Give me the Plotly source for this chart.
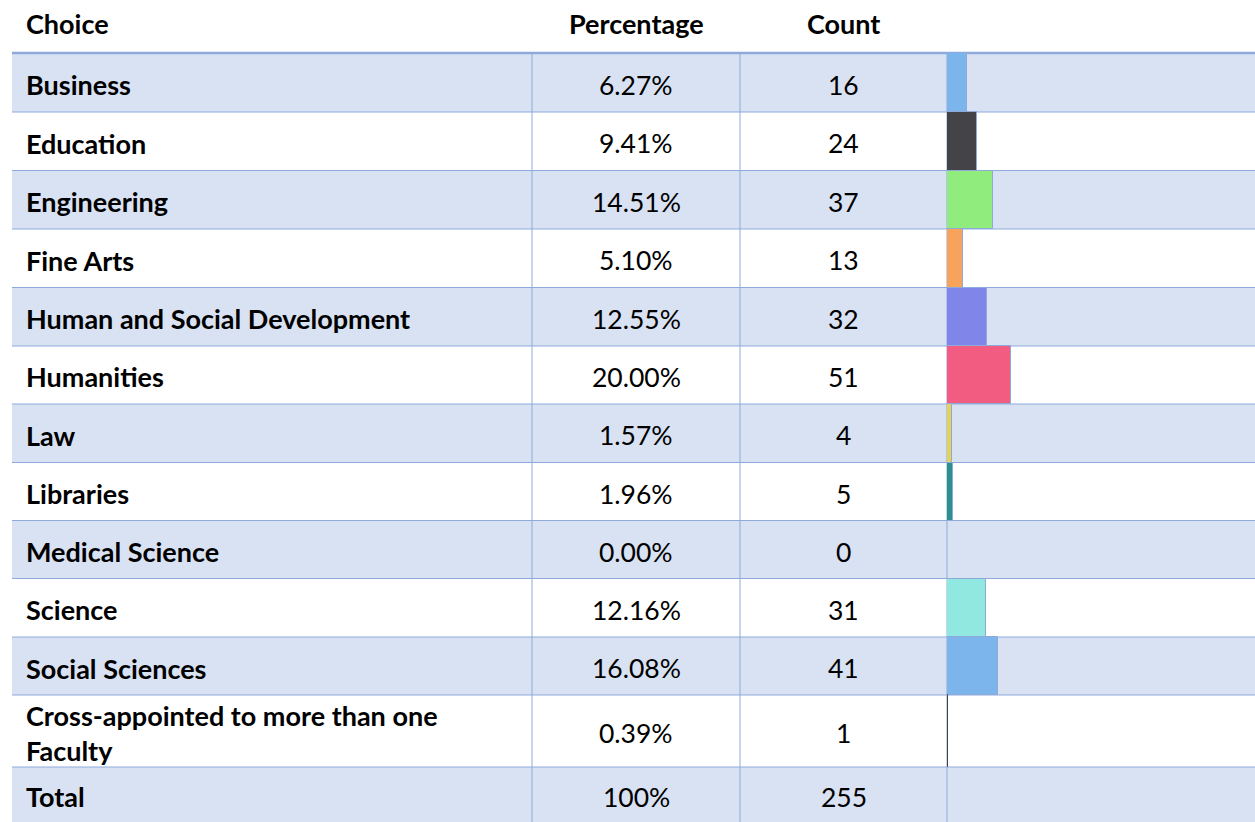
import plotly.graph_objects as go

# ---------------- data ----------------
headers = ["Choice", "Percentage", "Count"]
choices = ["Business", "Education", "Engineering", "Fine Arts",
           "Human and Social Development", "Humanities", "Law", "Libraries",
           "Medical Science", "Science", "Social Sciences",
           "Cross-appointed to more than one<br>Faculty"]
percentages = [6.27, 9.41, 14.51, 5.10, 12.55, 20.00, 1.57, 1.96, 0.00, 12.16, 16.08, 0.39]
counts = [16, 24, 37, 13, 32, 51, 4, 5, 0, 31, 41, 1]
total_label = "Total"
total_percentage = "100%"
total_count = 255

# ---------------- style / layout ----------------
bar_colors = ['#7cb5ec', '#434348', '#90ed7d', '#f7a35c', '#8085e9', '#f15c80',
              '#e4d354', '#2b908f', '#f45b5b', '#91e8e1', '#7cb5ec', '#434348']
W, H = 1255, 822
LINE = '#8eaadb'
BAND = '#d9e2f3'
FONT = "Lato"
FS_BOLD = 27
FS_REG = 26.5
row_edges = [53, 112, 170.5, 229, 287.5, 346, 404, 462.5, 520.5, 578.5, 637, 695, 767, 826]
col_edges = [12, 532, 740, 947, W]
px_per_pct = 3.18

def px(x):
    return x / W

def py(y):
    return 1 - y / H

centers = [(row_edges[i] + row_edges[i + 1]) / 2 for i in range(len(row_edges) - 1)]
heights = [row_edges[i + 1] - row_edges[i] for i in range(len(row_edges) - 1)]

fig = go.Figure()

n = len(choices)
fig.add_trace(go.Bar(
    y=centers[:n], x=percentages, width=heights[:n], orientation='h',
    marker=dict(color=bar_colors,
                line=dict(color=[LINE if p > 0.5 else c for p, c in zip(percentages, bar_colors)],
                          width=[1 if p > 0 else 0 for p in percentages])),
    hoverinfo='skip', showlegend=False,
))

shapes = []
# row bands
for i in range(len(centers)):
    if i % 2 == 0:
        shapes.append(dict(type='rect', xref='paper', yref='paper', layer='below',
                           x0=px(col_edges[0]), x1=1, y0=py(row_edges[i]), y1=py(row_edges[i + 1]),
                           fillcolor=BAND, line=dict(width=0)))
# horizontal lines
for i, e in enumerate(row_edges[:-1]):
    shapes.append(dict(type='line', xref='paper', yref='paper', layer='below',
                       x0=px(col_edges[0]), x1=1, y0=py(e), y1=py(e),
                       line=dict(color=LINE, width=2.5 if i == 0 else 1)))
# vertical lines
for c in col_edges[1:-1]:
    shapes.append(dict(type='line', xref='paper', yref='paper', layer='below',
                       x0=px(c), x1=px(c), y0=py(row_edges[0]), y1=0,
                       line=dict(color=LINE, width=1)))

annotations = []
def txt(s, x, y, anchor, bold=False):
    annotations.append(dict(text=f"<b>{s}</b>" if bold else s, x=px(x), y=py(y),
                            xref='paper', yref='paper', xanchor=anchor, yanchor='middle',
                            align='left' if anchor == 'left' else 'center',
                            showarrow=False,
                            font=dict(family=FONT, size=FS_BOLD if bold else FS_REG, color='#000000')))

pct_center = (col_edges[1] + col_edges[2]) / 2
cnt_center = (col_edges[2] + col_edges[3]) / 2
TX = 24
txt(headers[0], TX, 24, 'left', True)
txt(headers[1], pct_center, 24, 'center', True)
txt(headers[2], cnt_center, 24, 'center', True)

for i in range(n):
    yc = centers[i] + 2
    txt(choices[i], TX, yc, 'left', True)
    txt(f"{percentages[i]:.2f}%", pct_center, yc, 'center')
    txt(str(counts[i]), cnt_center, yc, 'center')
yc = (row_edges[n] + H) / 2 + 2
txt(total_label, TX, yc, 'left', True)
txt(total_percentage, pct_center, yc, 'center')
txt(str(total_count), cnt_center, yc, 'center')

fig.update_layout(
    width=W, height=H, margin=dict(l=0, r=0, t=0, b=0),
    paper_bgcolor='white', plot_bgcolor='rgba(0,0,0,0)',
    xaxis=dict(domain=[px(col_edges[3]), 1], range=[0, (W - col_edges[3]) / px_per_pct],
               visible=False, fixedrange=True),
    yaxis=dict(domain=[0, 1], range=[H, 0], visible=False, fixedrange=True),
    bargap=0, shapes=shapes, annotations=annotations,
)

fig.write_html("out.html", config=dict(displayModeBar=False),
               post_script="document.body.style.margin='0';")
